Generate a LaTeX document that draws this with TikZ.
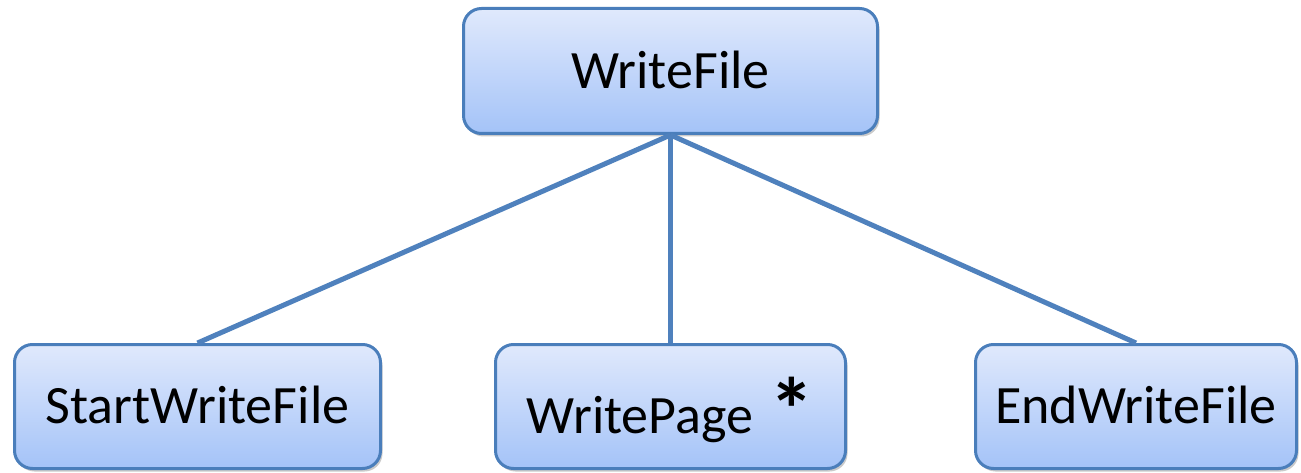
\documentclass[tikz,border=0pt]{standalone}
\usepackage{fontspec}
\setmainfont{Carlito}
\usetikzlibrary{shadows}
\definecolor{boxtop}{RGB}{224,233,252}
\definecolor{boxbot}{RGB}{164,195,248}
\definecolor{boxedge}{RGB}{74,126,187}
\definecolor{linkcol}{RGB}{79,129,189}
\tikzset{
  task/.style={draw=boxedge, line width=3pt, rounded corners=18pt,
    top color=boxtop, bottom color=boxbot,
    drop shadow={shadow xshift=2pt, shadow yshift=-3pt, opacity=0.35, fill=black!60},
    minimum height=124pt, inner sep=0pt, align=center,
    font=\fontsize{54}{60}\selectfont, text height=34.8pt, text depth=0pt},
  link/.style={draw=linkcol, line width=5pt}
}
\begin{document}
\begin{tikzpicture}[x=1pt, y=-1pt]
  \useasboundingbox (0,0) rectangle (1301,473);
  \node[task, minimum width=414pt, minimum height=125pt] (root) at (670.5,71) {WriteFile};
  \node[task, minimum width=366pt] (start) at (197.5,406.5) {StartWriteFile};
  \node[task, minimum width=350pt, text height=53pt] (page) at (670.5,406.5)
    {WritePage\hspace{0.3em}\raisebox{-8pt}{\fontsize{90}{90}\selectfont\bfseries *}};
  \node[task, minimum width=321pt] (finish) at (1136,406.5) {EndWriteFile};
  \draw[link] (root.south) -- (start.north);
  \draw[link] (root.south) -- (page.north);
  \draw[link] (root.south) -- (finish.north);
\end{tikzpicture}
\end{document}
